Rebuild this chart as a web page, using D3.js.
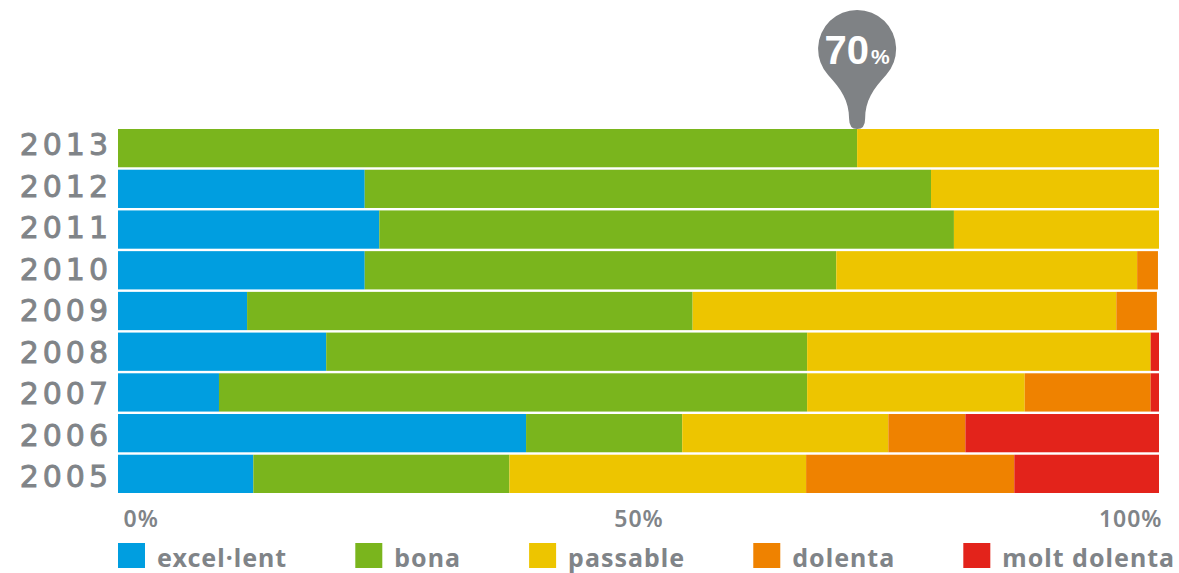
<!DOCTYPE html>
<html>
<head>
<meta charset="utf-8">
<script src="https://cdn.jsdelivr.net/npm/d3@7"></script>
<style>
  body { margin: 0; background: #fff; }
  svg { display: block; }
</style>
</head>
<body>
<div id="chartDiv"></div>
<script>
// data (percent of answers per year)
var years = ["2013", "2012", "2011", "2010", "2009", "2008", "2007", "2006", "2005"];
var seriesNames = ["excel·lent", "bona", "passable", "dolenta", "molt dolenta"];
var excellent = [0, 23.7, 25.1, 23.7, 12.4, 20.0, 9.7, 39.2, 13.0];
var bona      = [71.0, 54.4, 55.2, 45.3, 42.8, 46.2, 56.5, 15.0, 24.6];
var passable  = [29.0, 21.9, 19.7, 28.9, 40.7, 33.0, 20.9, 19.8, 28.5];
var dolenta   = [0, 0, 0, 2.0, 3.9, 0, 12.1, 7.4, 20.0];
var moltDol   = [0, 0, 0, 0, 0, 0.8, 0.8, 18.6, 13.9];
var xTicks = [0, 50, 100];
var pinLabel = "70";

var colors = ["#009ee0", "#7ab51d", "#edc500", "#ef8200", "#e3231b"];
var grey = "#808488";

var width = 1179, height = 573;

var svg = d3.select("#chartDiv").append("svg")
  .attr("width", width)
  .attr("height", height);

// build table for stack
var table = years.map(function (y, i) {
  return { year: y, "excel·lent": excellent[i], "bona": bona[i], "passable": passable[i],
           "dolenta": dolenta[i], "molt dolenta": moltDol[i] };
});
var stack = d3.stack().keys(seriesNames)(table);

var x = d3.scaleLinear().domain([0, 100]).range([118, 1159]);
var y = d3.scaleBand().domain(years).range([129, 493]).paddingInner(0.06).paddingOuter(0);
var yLab = d3.scalePoint().domain(years).range([155, 487]);
var color = d3.scaleOrdinal().domain(seriesNames).range(colors);

// bars
svg.append("g").selectAll("g")
  .data(stack)
  .enter().append("g")
    .attr("fill", function (d) { return color(d.key); })
  .selectAll("rect")
  .data(function (d) { return d; })
  .enter().append("rect")
    .attr("x", function (d) { return x(d[0]); })
    .attr("y", function (d) { return y(d.data.year); })
    .attr("width", function (d) { return Math.max(0, x(d[1]) - x(d[0])); })
    .attr("height", y.bandwidth());

// year labels (slight stroke for a medium weight)
svg.append("g").selectAll("text")
  .data(years)
  .enter().append("text")
    .attr("x", 112)
    .attr("y", function (d) { return yLab(d); })
    .attr("text-anchor", "end")
    .style("font-family", "'DejaVu Sans', sans-serif")
    .style("font-size", "30px")
    .style("letter-spacing", "4px")
    .attr("fill", grey)
    .attr("stroke", grey)
    .attr("stroke-width", 0.9)
    .text(function (d) { return d; });

// x axis
var xAxis = d3.axisBottom(x).tickValues(xTicks).tickSize(0)
  .tickFormat(function (d) { return d + "%"; });
var axisG = svg.append("g")
  .attr("transform", "translate(0,508)")
  .call(xAxis);
axisG.select(".domain").remove();
axisG.selectAll("text")
  .style("font-family", "'Noto Sans', sans-serif")
  .style("font-size", "23px")
  .style("font-weight", "600")
  .style("letter-spacing", "1px")
  .attr("fill", grey)
  .attr("text-anchor", function (d, i) { return i == 0 ? "start" : (i == xTicks.length - 1 ? "end" : "middle"); })
  .attr("dx", function (d, i) { return i == 0 ? 5 : (i == xTicks.length - 1 ? 3 : 0); });

// legend, spread from left edge to the right
var legend = svg.append("g");
var items = legend.selectAll("g")
  .data(seriesNames)
  .enter().append("g");
items.append("rect")
  .attr("width", 27).attr("height", 25)
  .attr("y", 543)
  .attr("fill", function (d) { return color(d); });
items.append("text")
  .attr("x", 39)
  .attr("y", 567)
  .style("font-family", "'Noto Sans', sans-serif")
  .style("font-size", "25px")
  .style("font-weight", "bold")
  .style("letter-spacing", "1px")
  .attr("fill", grey)
  .text(function (d) { return d; });

var widths = [];
items.each(function () { widths.push(this.getBBox().width); });
var total = d3.sum(widths);
var gap = (1175 - 118 - total) / (seriesNames.length - 1);
var pos = 118;
items.attr("transform", function (d, i) {
  var t = "translate(" + pos + ",0)";
  pos += widths[i] + gap;
  return t;
});

// pin marker at the end of "bona" 2013
var s2013 = stack[1][0];
var px = x(s2013[1]);
var tipY = y("2013");
var pin = svg.append("g").attr("transform", "translate(" + px + "," + (tipY - 80) + ")");
pin.append("path")
  .attr("d", "M -29,26 A 39 39 0 1 1 29,26 C 16,40 8,52 8,70 Q 8,80 0,80 Q -8,80 -8,70 C -8,52 -16,40 -29,26 Z")
  .attr("fill", "#7f8285");
var pt = pin.append("text")
  .attr("text-anchor", "middle")
  .attr("y", 15)
  .attr("fill", "#fff")
  .style("font-family", "'Liberation Sans Narrow', 'Liberation Sans', sans-serif")
  .style("font-weight", "bold");
pt.append("tspan").style("font-size", "40px").text(pinLabel);
pt.append("tspan").style("font-size", "21px").attr("dx", 2).text("%");
</script>
</body>
</html>
